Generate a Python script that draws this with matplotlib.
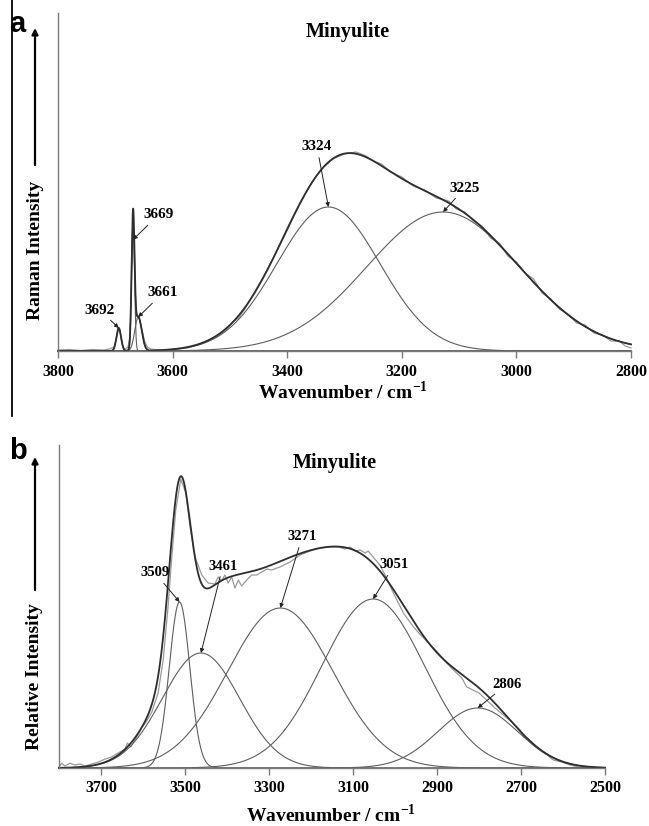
import numpy as np
import matplotlib
matplotlib.use("Agg")
import matplotlib.pyplot as plt
from matplotlib.lines import Line2D

plt.rcParams["font.family"] = ["Liberation Serif", "DejaVu Serif"]
plt.rcParams["font.weight"] = "bold"
plt.rcParams["mathtext.fontset"] = "custom"
plt.rcParams["mathtext.rm"] = "Liberation Serif:bold"
plt.rcParams["mathtext.bf"] = "Liberation Serif:bold"

# ---- panel a: Raman, fitted bands (centre, height, width) ----
bands_a_center = [3694, 3669, 3660, 3328, 3128]
bands_a_height = [23, 131, 34, 144, 139]
bands_a_width = [4, 2.5, 6, 90, 133]
labels_a = ["3692", "3669", "3661", "3324", "3225"]
tip_frac_a = [1.0, 0.85, 1.0, 1.0, 1.0]
label_a_x = [3727, 3625, 3617, 3348, 3090]
label_a_y = [41, 136, 58, 204, 163]

obs_a_x = [3800, 3780, 3760, 3740, 3720, 3710, 3702, 3698, 3695, 3692, 3689,
           3686, 3682, 3678, 3675, 3673, 3671, 3669, 3667, 3665, 3663, 3660,
           3657, 3653, 3649, 3644, 3638, 3625, 3600, 3575, 3550, 3525, 3505,
           3495, 3485, 3475, 3460, 3440, 3420, 3400, 3380, 3360, 3340, 3320,
           3300, 3280, 3262, 3250, 3235, 3220, 3200, 3180, 3160, 3140, 3118,
           3105, 3090, 3075, 3060, 3045, 3030, 3015, 3000, 2985, 2970, 2955,
           2940, 2925, 2910, 2895, 2880, 2865, 2850, 2835, 2820, 2810, 2800]
obs_a_y = [1, 1.5, 0.5, 1.5, 1, 2, 4, 12, 22, 20, 9,
           3, 2, 4, 12, 45, 110, 131, 105, 58, 38, 35,
           31, 20, 10, 4, 2, 1, 1.5, 3, 7, 14, 22,
           29, 33, 41, 56, 76, 98, 123, 146, 166, 182, 192,
           197, 199, 195, 190, 187, 179, 174, 165, 161, 153, 150,
           142, 139, 130, 125, 113, 108, 95, 89, 78, 72, 58,
           52, 42, 37, 28, 26, 18, 16, 10, 10, 5, 3]

# ---- panel b: relative intensity ----
bands_b_center = [3513, 3462, 3273, 3052, 2803]
bands_b_height = [166, 115, 160, 169, 60]
bands_b_width = [24.5, 92, 125, 122, 95]
labels_b = ["3509", "3461", "3271", "3051", "2806"]
tip_frac_b = [1.0, 1.0, 1.0, 1.0, 1.0]
label_b_x = [3571, 3410, 3221, 3002, 2733]
label_b_y = [195, 202, 231, 203, 84]

obs_b_x = [3800, 3794, 3786, 3774, 3762, 3750, 3738, 3722, 3706, 3690, 3675,
           3659, 3643, 3637, 3629, 3615, 3602, 3594, 3579, 3564, 3552, 3541,
           3532, 3522, 3510, 3498, 3488, 3476, 3460, 3445, 3429, 3421, 3413,
           3405, 3397, 3389, 3381, 3373, 3365, 3353, 3341, 3329, 3317, 3305,
           3294, 3274, 3250, 3226, 3202, 3179, 3155, 3135, 3119, 3107, 3095,
           3083, 3071, 3064, 3052, 3036, 3020, 3004, 2980, 2956, 2941, 2925,
           2901, 2877, 2861, 2841, 2829, 2800, 2782, 2762, 2742, 2722, 2702,
           2694, 2682, 2663, 2643, 2623, 2603, 2583, 2563, 2544]
obs_b_y = [1, 4.7, 2, 4.7, 3, 4, 2, 4, 6, 9, 11,
           15, 19, 25, 21, 31, 41, 45, 56, 75, 108, 158,
           208, 258, 289, 275, 241, 211, 193, 185, 184, 191, 187,
           193, 185, 191, 180, 188, 182, 188, 193, 193, 196, 199,
           198, 201, 206, 213, 217, 220, 221, 221, 219, 221, 217,
           218, 215, 217, 211, 203, 190, 175, 155, 141, 134, 127,
           117, 105, 98, 90, 81, 75, 68, 60, 53, 46, 38,
           31, 29, 21, 15, 8, 6, 3, 1, 0.5]


def band(x, c, h, w):
    return h * np.exp(-(x - c) ** 2 / (2.0 * w ** 2))


def draw_panel(ax, xlim, ylim, ticks, centers, heights, widths,
               obs_x, obs_y, labels, tip_frac, lab_x, lab_y, lab_size):
    x = np.linspace(xlim[0], xlim[1], 6001)
    comps = [band(x, c, h, w) for c, h, w in zip(centers, heights, widths)]
    ax.plot(obs_x, obs_y, color="#9a9a9a", lw=0.9, clip_on=False)
    for y in comps:
        ax.plot(x, y, color="#5e5e5e", lw=0.8, clip_on=False)
    ax.plot(x, np.sum(comps, axis=0), color="#2e2e2e", lw=1.3, clip_on=False)

    for i, lab in enumerate(labels):
        ax.annotate(lab, xy=(centers[i], heights[i] * tip_frac[i]),
                    xytext=(lab_x[i], lab_y[i]), ha="center", va="center",
                    fontsize=lab_size, fontweight="bold",
                    arrowprops=dict(arrowstyle="-|>", color="#222222", lw=0.7,
                                    mutation_scale=6, shrinkA=1, shrinkB=0))

    ax.set_xlim(*xlim)
    ax.set_ylim(*ylim)
    ax.set_xticks(ticks)
    ax.set_xticklabels([str(t) for t in ticks])
    ax.set_yticks([])
    for s in ["top", "right"]:
        ax.spines[s].set_visible(False)
    for s in ["left", "bottom"]:
        ax.spines[s].set_color("#7a7a7a")
        ax.spines[s].set_linewidth(1.0)
    ax.tick_params(axis="x", direction="out", length=5, width=1.0,
                   color="#7a7a7a", pad=4, labelsize=11.5)
    for t in ax.get_xticklabels():
        t.set_fontweight("bold")


W, H = 649, 826
fig = plt.figure(figsize=(W / 100, H / 100), dpi=100)

ax_a = fig.add_axes([58 / W, 1 - 351 / H, 573 / W, 338 / H])
draw_panel(ax_a, (3800, 2800), (0, 338), [3800, 3600, 3400, 3200, 3000, 2800],
           bands_a_center, bands_a_height, bands_a_width, obs_a_x, obs_a_y,
           labels_a, tip_frac_a, label_a_x, label_a_y, 11)
ax_a.set_xlabel(r"Wavenumber / cm$^{-1}$", fontsize=14, fontweight="bold")
ax_a.xaxis.set_label_coords(0.497, -0.087)

ax_b = fig.add_axes([59 / W, 1 - 768 / H, 546 / W, 323 / H])
draw_panel(ax_b, (3800, 2500), (0, 323), [3700, 3500, 3300, 3100, 2900, 2700, 2500],
           bands_b_center, bands_b_height, bands_b_width, obs_b_x, obs_b_y,
           labels_b, tip_frac_b, label_b_x, label_b_y, 10.5)
ax_b.set_xlabel(r"Wavenumber / cm$^{-1}$", fontsize=14, fontweight="bold")
ax_b.xaxis.set_label_coords(0.498, -0.110)

# titles, panel letters, y labels with arrows
fig.text(348 / W, 1 - 32 / H, "Minyulite", ha="center", va="center",
         fontsize=14.5, fontweight="bold")
fig.text(335 / W, 1 - 463 / H, "Minyulite", ha="center", va="center",
         fontsize=14.5, fontweight="bold")
fig.text(17 / W, 1 - 24 / H, "a", ha="center", va="center", fontsize=21,
         fontweight="bold", family="Liberation Sans")
fig.text(18 / W, 1 - 451 / H, "b", ha="center", va="center", fontsize=21,
         fontweight="bold", family="Liberation Sans")
fig.text(35 / W, 1 - 250 / H, "Raman Intensity", rotation=90, ha="center",
         va="center", fontsize=14, fontweight="bold")
fig.text(35 / W, 1 - 677 / H, "Relative Intensity", rotation=90, ha="center",
         va="center", fontsize=14, fontweight="bold")
for y0, y1 in [(165, 28), (590, 457)]:
    fig.add_artist(plt.Annotation("", xy=(35 / W, 1 - y1 / H),
                                  xytext=(35 / W, 1 - y0 / H),
                                  xycoords="figure fraction",
                                  textcoords="figure fraction",
                                  arrowprops=dict(arrowstyle="-|>", color="black",
                                                  lw=1.6, mutation_scale=9,
                                                  shrinkA=0, shrinkB=0)))

# scanned page border on the left of panel a
fig.add_artist(Line2D([12 / W, 12 / W], [1 - 416 / H, 1.0],
                      transform=fig.transFigure, color="black", lw=1.3))

fig.savefig("out.png", dpi=100, facecolor="white")
